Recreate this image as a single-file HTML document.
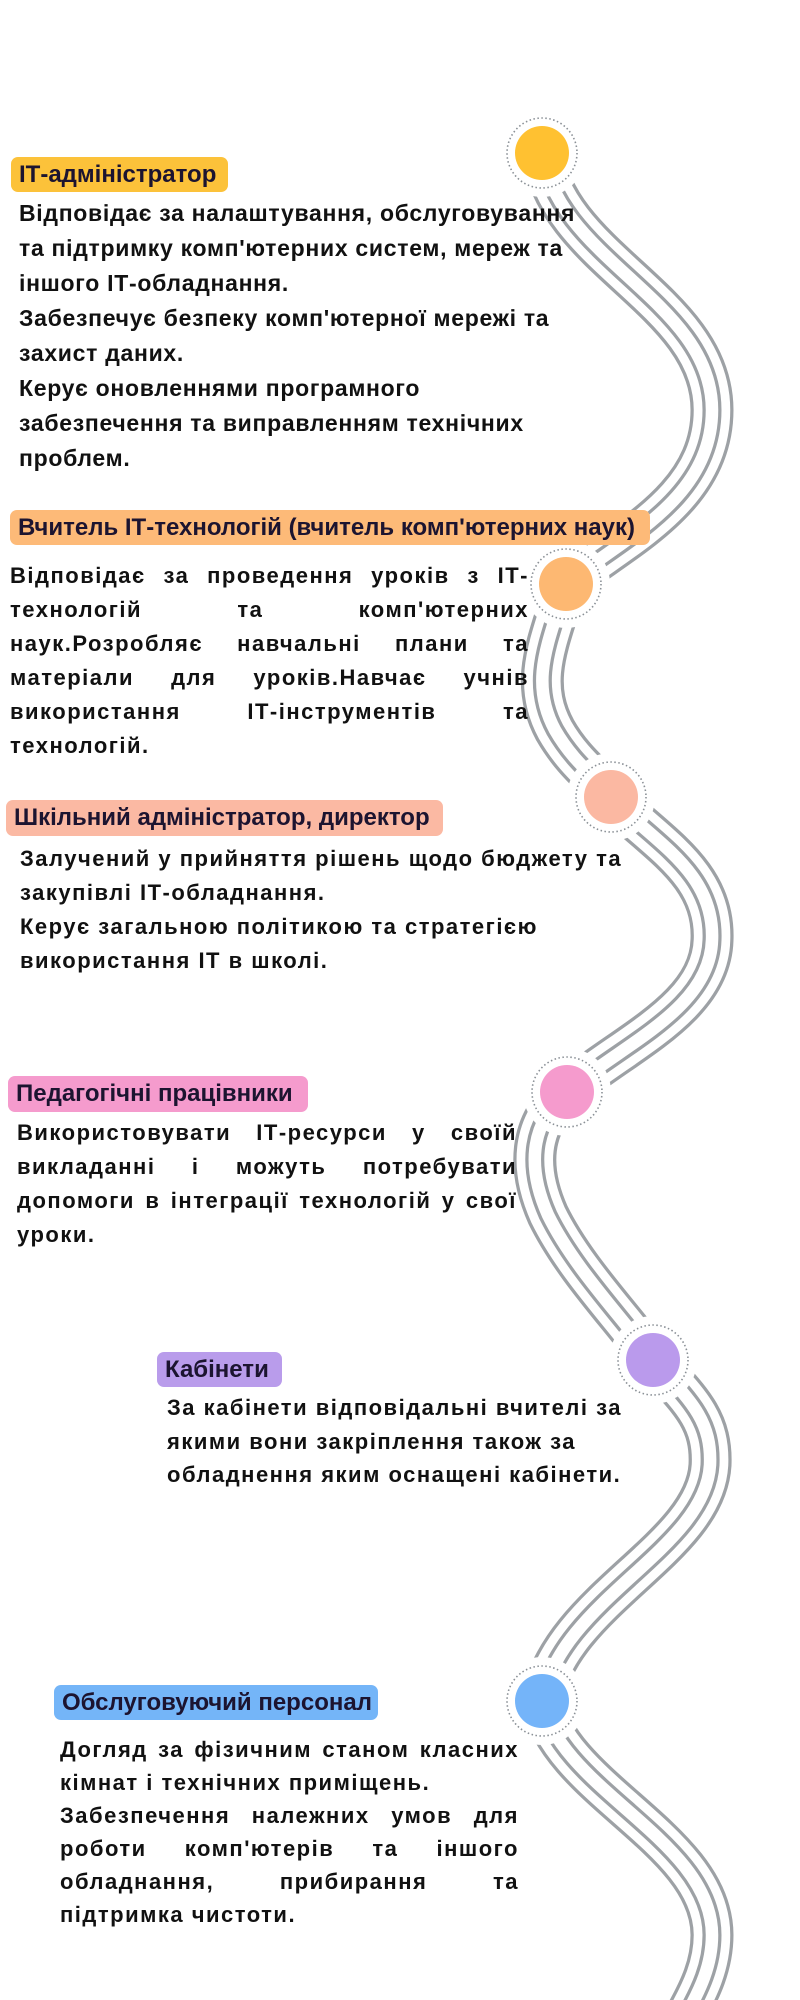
<!DOCTYPE html>
<html><head><meta charset="utf-8">
<style>
html,body{margin:0;padding:0;background:#fff;}
body{width:800px;height:2000px;position:relative;overflow:hidden;font-family:"Liberation Sans","DejaVu Sans",sans-serif;color:#111;}
svg{position:absolute;left:0;top:0;}
.b{position:absolute;border-radius:7px;font-weight:bold;font-size:24px;color:#1c1430;line-height:35px;padding-left:8px;box-sizing:border-box;white-space:nowrap;}
.t{position:absolute;font-weight:bold;white-space:nowrap;}
.w{font-size:22px;letter-spacing:1.5px;}
.j div{text-align:justify;text-align-last:justify;}
.j div.l{text-align-last:left;}
</style></head><body>
<svg width="800" height="2000" viewBox="0 0 800 2000">
<defs>
<path id="p" d="M542,150 C 555,260 712,300 712,410 C 712,500 620,540 566,584 C 550,640 528,680 555,730 C 575,765 600,780 611,797 C 650,840 715,870 712,940 C 710,1010 620,1045 567,1092 C 528,1125 528,1170 548,1215 C 575,1270 625,1320 653,1360 C 690,1400 712,1420 710,1465 C 705,1550 560,1600 542,1701 C 560,1790 712,1840 712,1935 C 712,1965 700,1990 686,2015"/>
</defs>
<g fill="none">
<use href="#p" stroke="#9da1a5" stroke-width="43"/>
<use href="#p" stroke="#fff" stroke-width="36.5"/>
<use href="#p" stroke="#9da1a5" stroke-width="19"/>
<use href="#p" stroke="#fff" stroke-width="12.5"/>
</g>
<g>
<circle cx="542" cy="153" r="44" fill="#fff"/><circle cx="542" cy="153" r="35" fill="none" stroke="#8a9096" stroke-width="1.6" stroke-dasharray="1.5 2.5"/><circle cx="542" cy="153" r="27" fill="#FFC131"/>
<circle cx="566" cy="584" r="44" fill="#fff"/><circle cx="566" cy="584" r="35" fill="none" stroke="#8a9096" stroke-width="1.6" stroke-dasharray="1.5 2.5"/><circle cx="566" cy="584" r="27" fill="#FDB872"/>
<circle cx="611" cy="797" r="44" fill="#fff"/><circle cx="611" cy="797" r="35" fill="none" stroke="#8a9096" stroke-width="1.6" stroke-dasharray="1.5 2.5"/><circle cx="611" cy="797" r="27" fill="#FBB8A2"/>
<circle cx="567" cy="1092" r="44" fill="#fff"/><circle cx="567" cy="1092" r="35" fill="none" stroke="#8a9096" stroke-width="1.6" stroke-dasharray="1.5 2.5"/><circle cx="567" cy="1092" r="27" fill="#F59BCD"/>
<circle cx="653" cy="1360" r="44" fill="#fff"/><circle cx="653" cy="1360" r="35" fill="none" stroke="#8a9096" stroke-width="1.6" stroke-dasharray="1.5 2.5"/><circle cx="653" cy="1360" r="27" fill="#BA9AEC"/>
<circle cx="542" cy="1701" r="44" fill="#fff"/><circle cx="542" cy="1701" r="35" fill="none" stroke="#8a9096" stroke-width="1.6" stroke-dasharray="1.5 2.5"/><circle cx="542" cy="1701" r="27" fill="#74B4F9"/>
</g>
</svg>

<div class="b" style="left:11px;top:157px;width:217px;height:35px;background:#FCC23A;">ІТ-адміністратор</div>
<div class="t" style="left:19px;top:196px;font-size:23px;letter-spacing:0.7px;line-height:35px;">
Відповідає за налаштування, обслуговування<br>та підтримку комп'ютерних систем, мереж та<br>іншого ІТ-обладнання.<br>Забезпечує безпеку комп'ютерної мережі та<br>захист даних.<br>Керує оновленнями програмного<br>забезпечення та виправленням технічних<br>проблем.</div>

<div class="b" style="left:10px;top:510px;width:640px;height:35px;background:#FDBA78;">Вчитель ІТ-технологій (вчитель комп'ютерних наук)</div>
<div class="t w j" style="left:10px;top:559px;width:519px;line-height:34px;">
<div>Відповідає за проведення уроків з ІТ-</div><div>технологій та комп'ютерних</div><div>наук.Розробляє навчальні плани та</div><div>матеріали для уроків.Навчає учнів</div><div>використання ІТ-інструментів та</div><div class="l">технологій.</div></div>

<div class="b" style="left:6px;top:800px;width:437px;height:36px;background:#FBB9A3;">Шкільний адміністратор, директор</div>
<div class="t w" style="left:20px;top:842px;line-height:34px;">Залучений у прийняття рішень щодо бюджету та<br>закупівлі ІТ-обладнання.<br>Керує загальною політикою та стратегією<br>використання ІТ в школі.</div>

<div class="b" style="left:8px;top:1076px;width:300px;height:36px;background:#F59BCD;">Педагогічні працівники</div>
<div class="t w j" style="left:17px;top:1116px;width:500px;line-height:34px;">
<div>Використовувати ІТ-ресурси у своїй</div><div>викладанні і можуть потребувати</div><div>допомоги в інтеграції технологій у свої</div><div class="l">уроки.</div></div>

<div class="b" style="left:157px;top:1352px;width:125px;height:35px;background:#B99CEB;">Кабінети</div>
<div class="t w" style="left:167px;top:1391px;line-height:33.5px;">За кабінети відповідальні вчителі за<br>якими вони закріплення також за<br>обладнення яким оснащені кабінети.</div>

<div class="b" style="left:54px;top:1685px;width:324px;height:35px;background:#74B5F8;">Обслуговуючий персонал</div>
<div class="t w j" style="left:60px;top:1733px;width:459px;line-height:33px;">
<div>Догляд за фізичним станом класних</div><div class="l">кімнат і технічних приміщень.</div><div>Забезпечення належних умов для</div><div>роботи комп'ютерів та іншого</div><div>обладнання, прибирання та</div><div class="l">підтримка чистоти.</div></div>
</body></html>
